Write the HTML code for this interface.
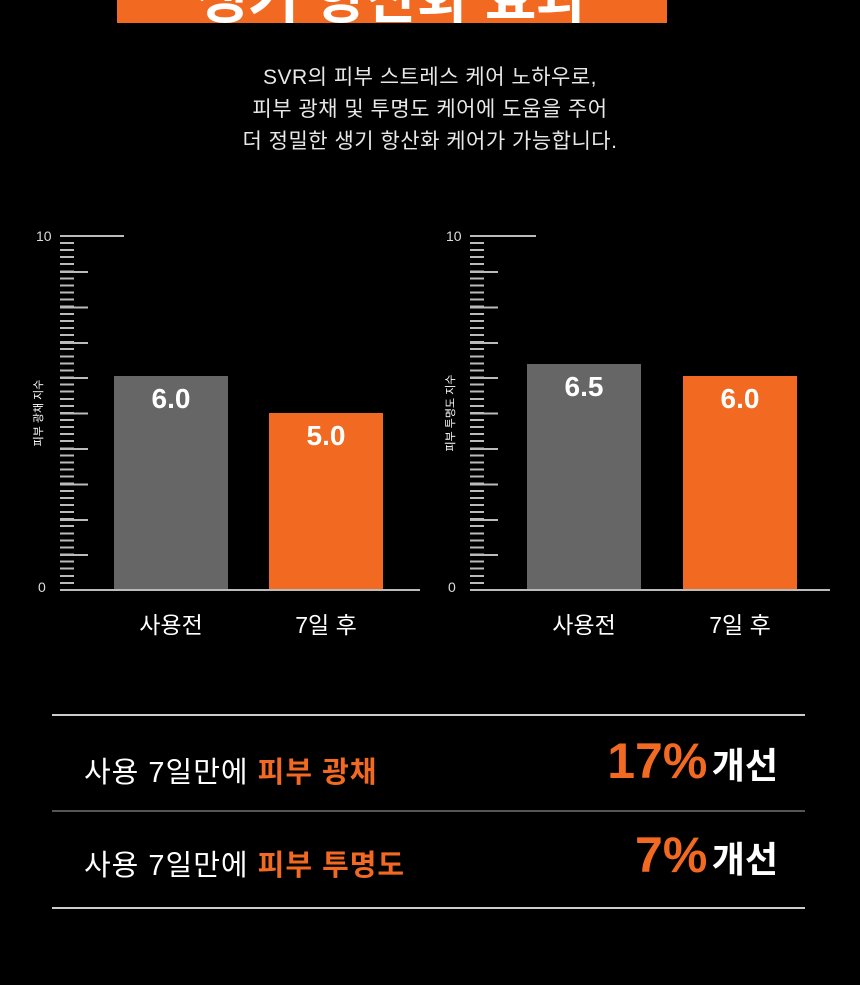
<!DOCTYPE html>
<html><head><meta charset="utf-8"><style>
body{margin:0;width:860px;height:985px;background:#000;overflow:hidden;position:relative;font-family:"Liberation Sans","Noto Sans CJK KR",sans-serif;color:#fff}
.a{position:absolute}
.sub{left:0;width:860px;text-align:center;font-size:21px;color:#e8e8e8;letter-spacing:0.5px}
.minor{background:repeating-linear-gradient(to bottom,#bbb 0,#bbb 2px,transparent 2px,transparent 7.08px)}
.major{background:repeating-linear-gradient(to bottom,#bbb 0,#bbb 2px,transparent 2px,transparent 35.4px)}
.val{font-weight:bold;font-size:28px;text-align:center;color:#fff}
.cat{font-size:23px;text-align:center;width:140px}
.ylab{font-size:11px;transform:rotate(-90deg);white-space:nowrap;width:100px;text-align:center}
.hr{left:52px;width:753px;height:2px;background:#ccc}
.rowt{left:84px;font-size:29px;letter-spacing:1px;white-space:nowrap}
.or{color:#f26a21;font-weight:bold}
</style></head><body>
<div class="a" style="left:117px;top:0;width:550px;height:23px;background:#f26a21;overflow:hidden">
<div class="a" style="left:0;width:550px;top:-46px;text-align:center;font-size:56px;font-weight:bold;color:#fff">생기 항산화 효과</div></div>
<div class="a sub" style="top:61px">SVR의 피부 스트레스 케어 노하우로,</div>
<div class="a sub" style="top:93px">피부 광채 및 투명도 케어에 도움을 주어</div>
<div class="a sub" style="top:125px">더 정밀한 생기 항산화 케어가 가능합니다.</div>

<!-- chart 1 -->
<div class="a" style="left:36px;top:228px;font-size:14px;color:#ddd">10</div>
<div class="a" style="left:38px;top:579px;font-size:14px;color:#ddd">0</div>
<div class="a" style="left:60px;top:235px;width:64px;height:2px;background:#bbb"></div>
<div class="a minor" style="left:60px;top:242px;width:14px;height:348px"></div>
<div class="a major" style="left:60px;top:271px;width:28px;height:319px"></div>
<div class="a" style="left:60px;top:589px;width:360px;height:2px;background:#bbb"></div>
<div class="a ylab" style="left:-12px;top:405px">피부 광채 지수</div>
<div class="a" style="left:114px;top:376px;width:114px;height:213px;background:#666"></div>
<div class="a val" style="left:114px;top:383px;width:114px">6.0</div>
<div class="a" style="left:269px;top:413px;width:114px;height:176px;background:#f26a21"></div>
<div class="a val" style="left:269px;top:420px;width:114px">5.0</div>
<div class="a cat" style="left:101px;top:606px">사용전</div>
<div class="a cat" style="left:256px;top:606px">7일 후</div>

<!-- chart 2 -->
<div class="a" style="left:446px;top:228px;font-size:14px;color:#ddd">10</div>
<div class="a" style="left:448px;top:579px;font-size:14px;color:#ddd">0</div>
<div class="a" style="left:470px;top:235px;width:66px;height:2px;background:#bbb"></div>
<div class="a minor" style="left:470px;top:242px;width:14px;height:348px"></div>
<div class="a major" style="left:470px;top:271px;width:28px;height:319px"></div>
<div class="a" style="left:470px;top:589px;width:360px;height:2px;background:#bbb"></div>
<div class="a ylab" style="left:400px;top:405px">피부 투명도 지수</div>
<div class="a" style="left:527px;top:364px;width:114px;height:225px;background:#666"></div>
<div class="a val" style="left:527px;top:371px;width:114px">6.5</div>
<div class="a" style="left:683px;top:376px;width:114px;height:213px;background:#f26a21"></div>
<div class="a val" style="left:683px;top:383px;width:114px">6.0</div>
<div class="a cat" style="left:514px;top:606px">사용전</div>
<div class="a cat" style="left:670px;top:606px">7일 후</div>

<div class="a hr" style="top:714px"></div>
<div class="a hr" style="top:810px;background:#555"></div>
<div class="a hr" style="top:907px"></div>
<div class="a rowt" style="top:749px">사용 7일만에 <span class="or">피부 광채</span></div>
<div class="a rowt" style="top:842px">사용 7일만에 <span class="or">피부 투명도</span></div>
<div class="a" style="right:82px;top:732px;white-space:nowrap"><span class="or" style="font-size:50px">17%</span> <span style="font-size:36px;font-weight:bold">개선</span></div>
<div class="a" style="right:82px;top:826px;white-space:nowrap"><span class="or" style="font-size:50px">7%</span> <span style="font-size:36px;font-weight:bold">개선</span></div>
</body></html>
